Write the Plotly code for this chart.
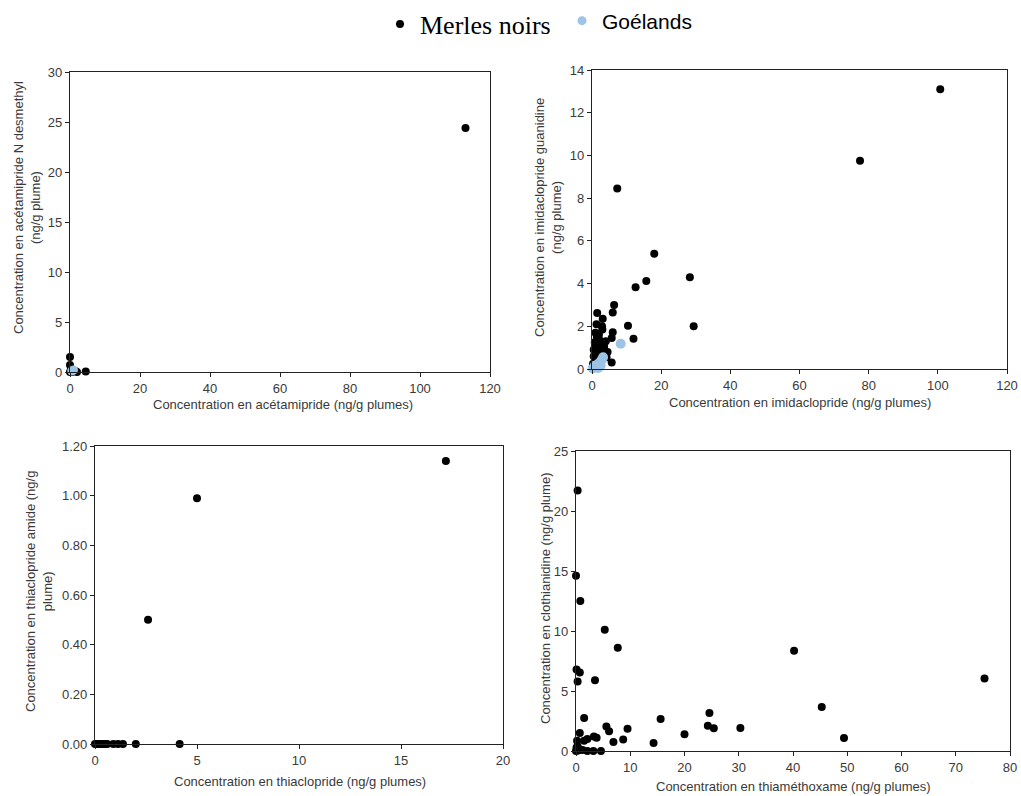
import plotly.graph_objects as go

W, H = 1021, 796

# Panel 1: acétamipride vs acétamipride N desmethyl
p1_merle_x = [113.0, 0.0, 0.0, 0.3, 0.2, 1.5, 4.5, 0.0, 0.6, 2.0]
p1_merle_y = [24.4, 1.5, 0.7, 0.3, 0.1, 0.1, 0.05, 0.0, 0.0, 0.0]
p1_goel_x = [1.0, 0.5]
p1_goel_y = [0.2, 0.1]

# Panel 2: imidaclopride vs imidaclopride guanidine
p2_merle_x = [100.7, 77.5, 7.3, 18.0, 28.3, 15.7, 12.6, 29.4, 10.4, 12.0, 6.4, 6.0, 1.5,
              3.1, 1.3, 2.9, 3.0, 6.0, 5.7, 1.0, 2.0, 4.0, 2.5, 1.0, 2.0, 3.0, 4.5, 0.5,
              1.2, 0.3, 1.6, 2.2, 0.8, 3.5, 5.7, 0.5, 1.8, 0.2, 0.6, 2.6, 4.2, 1.4]
p2_merle_y = [13.1, 9.75, 8.45, 5.4, 4.3, 4.12, 3.83, 2.0, 2.03, 1.42, 3.0, 2.65, 2.62,
              2.35, 2.1, 2.0, 1.85, 1.72, 1.45, 1.7, 1.6, 1.3, 1.2, 1.05, 0.95, 0.8, 0.8, 0.6,
              0.45, 0.25, 0.65, 1.35, 1.25, 1.05, 0.3, 0.9, 0.3, 0.1, 0.15, 0.5, 0.55, 1.5]
p2_goel_x = [8.3, 3.2, 2.8, 2.2, 1.5, 1.0, 0.5, 0.2, 1.8, 0.8, 2.5]
p2_goel_y = [1.18, 0.55, 0.42, 0.3, 0.2, 0.1, 0.05, 0.02, 0.05, 0.15, 0.15]

# Panel 3: thiaclopride vs thiaclopride amide
p3_merle_x = [17.2, 5.0, 2.6, 4.15, 2.0, 0.0, 0.1, 0.2, 0.3, 0.4, 0.5, 0.6, 0.9, 1.13, 1.37]
p3_merle_y = [1.14, 0.99, 0.50, 0.0, 0.0, 0.0, 0.0, 0.0, 0.0, 0.0, 0.0, 0.0, 0.0, 0.0, 0.0]

# Panel 4: thiaméthoxame vs clothianidine
p4_merle_x = [0.3, 0.0, 0.8, 5.3, 7.7, 40.2, 75.3, 0.1, 0.7, 0.3, 3.5, 45.3, 24.6, 15.6,
              1.5, 24.3, 25.4, 30.3, 5.6, 6.1, 9.5, 20.0, 49.4, 14.3, 8.7, 6.9, 0.7, 2.1,
              3.3, 3.8, 1.5, 0.2, 0.3, 0.6, 1.2, 2.1, 3.2, 4.6, 0.0, 0.1, 0.4]
p4_merle_y = [21.7, 14.6, 12.5, 10.1, 8.6, 8.35, 6.05, 6.8, 6.55, 5.8, 5.9, 3.67, 3.17, 2.67,
              2.75, 2.1, 1.9, 1.92, 2.05, 1.65, 1.85, 1.4, 1.08, 0.67, 0.95, 0.75, 1.5, 1.0,
              1.2, 1.1, 0.85, 0.85, 0.4, 0.15, 0.08, 0.0, 0.0, 0.0, 0.0, 0.3, 0.05]

BLACK = "#000000"
BLUE = "#9DC3E6"
TICKFONT = dict(family="Liberation Sans, Arial", size=13, color="#3a3a3a")
TITLEFONT = dict(family="Liberation Sans, Arial", size=13, color="#3a3a3a")

def px_x(p):
    return p / W

def px_y(p):
    return 1 - p / H

fig = go.Figure()

def add(x, y, color, size, ax, name, show, legend="legend"):
    fig.add_trace(go.Scatter(
        x=x, y=y, mode="markers", name=name, showlegend=show, legend=legend,
        marker=dict(color=color, size=size, line=dict(width=0)),
        cliponaxis=False,
        xaxis="x" + ax, yaxis="y" + ax))

MERLE = "Merles noirs"
GOEL = "Goélands"

add(p1_merle_x, p1_merle_y, BLACK, 8, "", MERLE, True, "legend")
add(p1_goel_x, p1_goel_y, BLUE, 9, "", GOEL, True, "legend2")
add(p2_merle_x, p2_merle_y, BLACK, 8, "2", MERLE, False)
add(p2_goel_x, p2_goel_y, BLUE, 10, "2", GOEL, False)
add(p3_merle_x, p3_merle_y, BLACK, 8, "3", MERLE, False)
add(p4_merle_x, p4_merle_y, BLACK, 8, "4", MERLE, False)

def axis(domain, rng, dtick, anchor, fmt=None):
    d = dict(domain=domain, range=rng, dtick=dtick, tick0=0, anchor=anchor,
             showline=True, mirror=True, linecolor="#222222", linewidth=1.3,
             ticks="outside", ticklen=4, tickcolor="#222222", showgrid=False,
             zeroline=False, tickfont=TICKFONT, fixedrange=True, automargin=False)
    if fmt:
        d["tickformat"] = fmt
    return d

fig.update_layout(
    width=W, height=H,
    margin=dict(l=0, r=0, t=0, b=0, autoexpand=False),
    paper_bgcolor="white", plot_bgcolor="white",
    xaxis=axis([px_x(70), px_x(490)], [0, 120], 20, "y"),
    yaxis=axis([px_y(372), px_y(72)], [0, 30], 5, "x"),
    xaxis2=axis([px_x(592), px_x(1007)], [0, 120], 20, "y2"),
    yaxis2=axis([px_y(369), px_y(70)], [0, 14], 2, "x2"),
    xaxis3=axis([px_x(95), px_x(503)], [0, 20], 5, "y3"),
    yaxis3=axis([px_y(744), px_y(446)], [0, 1.2], 0.2, "x3", ".2f"),
    xaxis4=axis([px_x(576), px_x(1010)], [0, 80], 10, "y4"),
    yaxis4=axis([px_y(751), px_y(451)], [0, 25], 5, "x4"),
    legend=dict(x=px_x(380), y=px_y(24), xanchor="left", yanchor="middle",
                font=dict(family="Liberation Serif, Times New Roman", size=26, color="black"),
                bgcolor="rgba(0,0,0,0)", itemwidth=30),
    legend2=dict(x=px_x(562), y=px_y(21), xanchor="left", yanchor="middle",
                 font=dict(family="Liberation Sans, Arial", size=21, color="black"),
                 bgcolor="rgba(0,0,0,0)", itemwidth=30),
)

def xtitle(text, cx, cy):
    fig.add_annotation(text=text, x=px_x(cx), y=px_y(cy), xref="paper", yref="paper",
                       showarrow=False, font=TITLEFONT, xanchor="center", yanchor="middle")

def ytitle(text, cx, cy):
    fig.add_annotation(text=text, x=px_x(cx), y=px_y(cy), xref="paper", yref="paper",
                       showarrow=False, font=TITLEFONT, textangle=-90,
                       xanchor="center", yanchor="middle")

xtitle("Concentration en acétamipride (ng/g plumes)", 283, 404)
xtitle("Concentration en imidaclopride (ng/g plumes)", 800, 402)
xtitle("Concentration en thiaclopride (ng/g plumes)", 300, 781)
xtitle("Concentration en thiaméthoxame (ng/g plumes)", 793, 786)

ytitle("Concentration en acétamipride N desmethyl<br>(ng/g plume)", 27, 208)
ytitle("Concentration en imidaclopride guanidine<br>(ng/g plume)", 548, 218)
ytitle("Concentration en thiaclopride amide (ng/g<br>plume)", 39, 592)
ytitle("Concentration en clothianidine (ng/g plume)", 545, 598)

fig.write_html(
    "out.html",
    config={"displayModeBar": False},
    post_script="document.body.style.margin='0';document.body.style.overflow='hidden';",
)
